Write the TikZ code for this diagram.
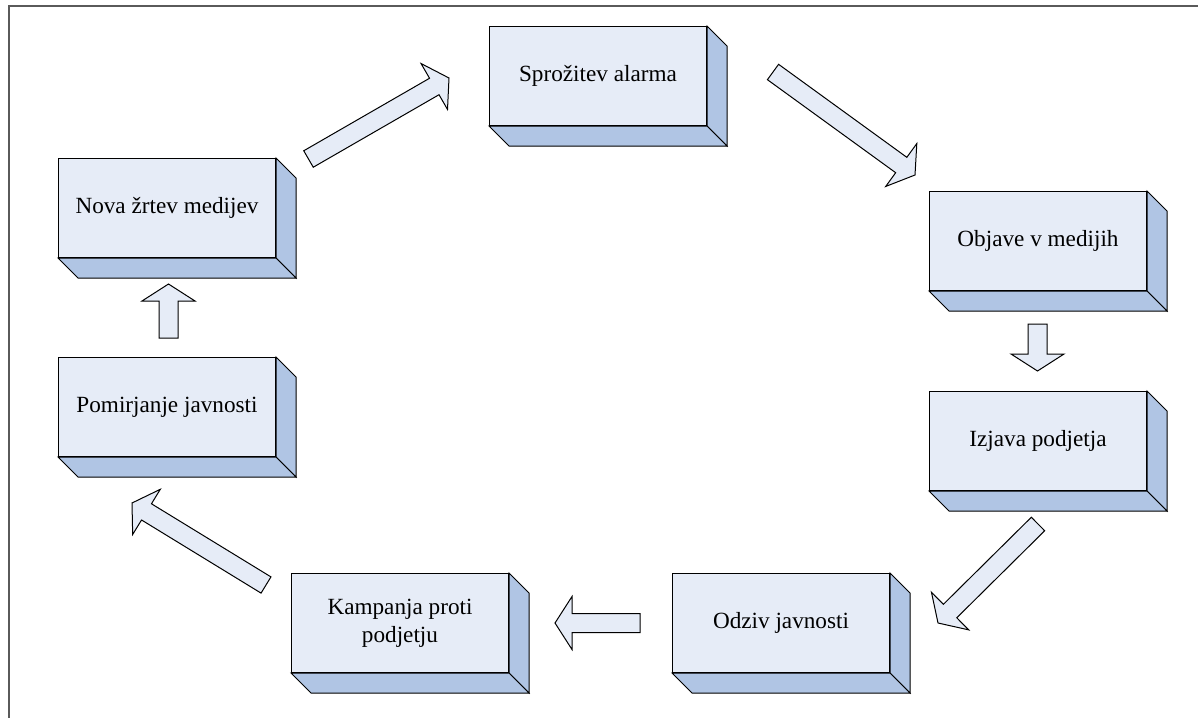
\documentclass[tikz,border=0pt]{standalone}
\usepackage{fontspec}
\setmainfont{Liberation Serif}
\usetikzlibrary{calc}
\definecolor{frontc}{RGB}{230,236,247}
\definecolor{sidec}{RGB}{176,197,228}
\definecolor{framec}{RGB}{90,90,90}
\tikzset{
  front/.style={draw=black, line width=0.5pt, fill=frontc, minimum width=108.5pt, minimum height=49.5pt,
    inner sep=2pt, align=center, font=\fontsize{11.6}{14}\selectfont},
  side/.style={draw=black, line width=0.5pt, fill=sidec, line join=miter},
  blockarr/.style={draw=black, line width=0.5pt, fill=frontc, line join=miter}
}
\newcommand\threedbox[1]{%
  \path[side] (#1.north east) -- ++(10pt,-10pt) -- ($(#1.south east)+(10pt,-10pt)$) -- (#1.south east) -- cycle;
  \path[side] (#1.south west) -- (#1.south east) -- ($(#1.south east)+(10pt,-10pt)$) -- ($(#1.south west)+(10pt,-10pt)$) -- cycle;
}
\newcommand\blockarrow[2]{%
  \coordinate (#1H) at ($(#2)!8.5pt!(#1)$);
  \draw[blockarr] ($(#1)!4.75pt!90:(#2)$) -- ($(#1H)!4.75pt!90:(#2)$) -- ($(#1H)!13.25pt!90:(#2)$) -- (#2)
    -- ($(#1H)!13.25pt!-90:(#2)$) -- ($(#1H)!4.75pt!-90:(#2)$) -- ($(#1)!4.75pt!-90:(#2)$) -- cycle;
}
\begin{document}
\begin{tikzpicture}[x=0.5pt, y=-0.5pt]
\useasboundingbox (0,0) rectangle (1198,717);
\fill[white] (0,0) rectangle (1198,717);
\draw[framec, line width=0.8pt] (9,720) -- (9,6) -- (1200,6);

% boxes
\node[front] (alarm) at (598,76) {Sprožitev alarma};
\node[front] (objave) at (1038,241) {Objave v medijih};
\node[front] (izjava) at (1038,441) {Izjava podjetja};
\node[front] (odziv) at (781,623) {Odziv javnosti};
\node[front] (kampanja) at (400,623) {Kampanja proti\\podjetju};
\node[front] (pomir) at (167,407) {Pomirjanje javnosti};
\node[front] (nova) at (167,208) {Nova žrtev medijev};
\foreach \n in {alarm,objave,izjava,odziv,kampanja,pomir,nova} {\threedbox{\n}}

% arrow end points
\coordinate (a1t) at (308.5,159);  \coordinate (a1e) at (449,78);
\coordinate (a2t) at (773,72);     \coordinate (a2e) at (915,175);
\coordinate (a3t) at (1037.5,324); \coordinate (a3e) at (1037.5,371);
\coordinate (a4t) at (1038,524);   \coordinate (a4e) at (938,623);
\coordinate (a5t) at (640,623);    \coordinate (a5e) at (555,623);
\coordinate (a6t) at (266,585);    \coordinate (a6e) at (132,503);
\coordinate (a7t) at (168.5,338);  \coordinate (a7e) at (168.5,284);

\blockarrow{a1t}{a1e}
\blockarrow{a2t}{a2e}
\blockarrow{a3t}{a3e}
\blockarrow{a4t}{a4e}
\blockarrow{a5t}{a5e}
\blockarrow{a6t}{a6e}
\blockarrow{a7t}{a7e}
\end{tikzpicture}
\end{document}
